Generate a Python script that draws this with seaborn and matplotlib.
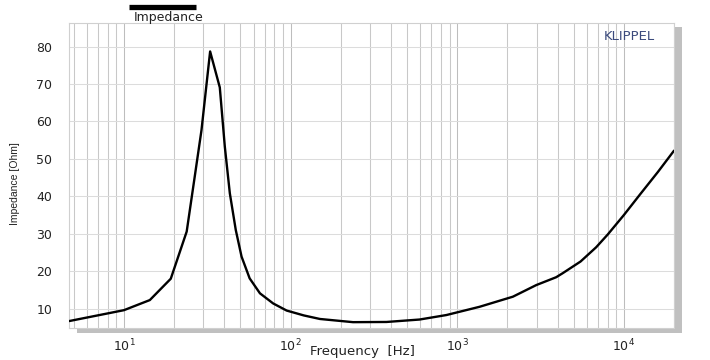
import matplotlib
matplotlib.use("Agg")
import matplotlib.pyplot as plt
from matplotlib.patches import Rectangle
from matplotlib.lines import Line2D
from matplotlib.ticker import LogLocator, MultipleLocator, NullFormatter, FixedLocator
import seaborn as sns
import pandas as pd

# ---- data ----
freq_hz = [4.7, 10, 14.3, 19.1, 23.8, 26.6, 29.2, 32.9, 37.6, 40.3, 43.2, 46.9,
           50.8, 56.8, 65.5, 78.6, 94.7, 120, 150, 237, 376, 594, 861, 1361,
           2158, 2980, 3925, 4305, 5500, 6820, 8000, 10000, 12500, 16000, 20000]
impedance_ohm = [6.7, 9.6, 12.3, 18.0, 30.6, 45.3, 57.7, 78.7, 69.1, 53.3, 40.8, 31.0,
                 23.9, 18.1, 14.1, 11.4, 9.5, 8.2, 7.25, 6.4, 6.45, 7.1, 8.3, 10.5,
                 13.2, 16.3, 18.4, 19.5, 22.6, 26.4, 29.8, 35.0, 40.5, 46.5, 52.2]
y_ticks = [10, 20, 30, 40, 50, 60, 70, 80]
series_name = "Impedance"

df = pd.DataFrame({"Frequency": freq_hz, "Impedance": impedance_ohm})

sns.set_style("white")
plt.rcParams["font.family"] = ["DejaVu Sans"]
plt.rcParams["mathtext.fontset"] = "dejavusans"

W, H = 710, 360
fig = plt.figure(figsize=(W / 100, H / 100), dpi=100)
L, R, T, B = 69, 674, 23, 328
ax = fig.add_axes([L / W, 1 - B / H, (R - L) / W, (B - T) / H])

# shadow behind the plot area
fig.patches.append(Rectangle((77 / W, 1 - 333 / H), (682 - 77) / W, (333 - 27) / H,
                             transform=fig.transFigure, facecolor="#c0c0c0",
                             edgecolor="none", zorder=0))
ax.set_zorder(1)
ax.set_facecolor("white")

sns.lineplot(data=df, x="Frequency", y="Impedance", ax=ax, color="black",
             linewidth=1.7, zorder=3)
ax.set_xscale("log")
ax.set_xlim(4.68, 20000)
ax.set_ylim(4.84, 86.3)

ax.xaxis.set_major_locator(LogLocator(base=10, numticks=10))
ax.xaxis.set_minor_locator(LogLocator(base=10, subs=range(2, 10), numticks=20))
ax.xaxis.set_minor_formatter(NullFormatter())
ax.yaxis.set_major_locator(FixedLocator(y_ticks))
ax.yaxis.set_minor_locator(MultipleLocator(2))

ax.grid(True, which="major", axis="x", color="#bdbdbd", linewidth=0.75)
ax.grid(True, which="minor", axis="x", color="#c8c8c8", linewidth=0.75)
ax.grid(True, which="major", axis="y", color="#dcdcdc", linewidth=0.75)

ax.tick_params(axis="both", which="major", labelsize=9, colors="#222222",
               length=4, width=0.7, direction="out")
ax.tick_params(axis="x", which="major", color="#bbbbbb", pad=3)
ax.tick_params(axis="y", which="major", color="#bbbbbb", pad=8)
ax.tick_params(axis="y", which="minor", direction="in", length=5, color="#d0d0d0", width=0.7)
ax.tick_params(axis="x", which="minor", length=0)

for s in ax.spines.values():
    s.set_color("#d0d0d0")
    s.set_linewidth(0.8)

ax.set_xlabel("")
ax.set_ylabel("Impedance [Ohm]", fontsize=7.5, family="Liberation Sans", color="#222222")
ax.yaxis.set_label_coords(-(L - 20) / (R - L), (B - 184) / (B - T))

fig.text(362 / W, 1 - 351 / H, "Frequency  [Hz]", ha="center", va="center",
         fontsize=9.5, color="#222222")

# legend-like header
fig.add_artist(Line2D([129 / W, 196 / W], [1 - 6.5 / H, 1 - 6.5 / H], color="black",
                      linewidth=3.8, solid_capstyle="butt"))
fig.text(169 / W, 1 - 17 / H, series_name, ha="center", va="center",
         fontsize=9, color="#222222")

ax.text(655 / W, 1 - 37 / H, "KLIPPEL", transform=fig.transFigure, ha="right",
        va="center", fontsize=9.5, color="#3b4a7c")

fig.savefig("out.png", dpi=100)
